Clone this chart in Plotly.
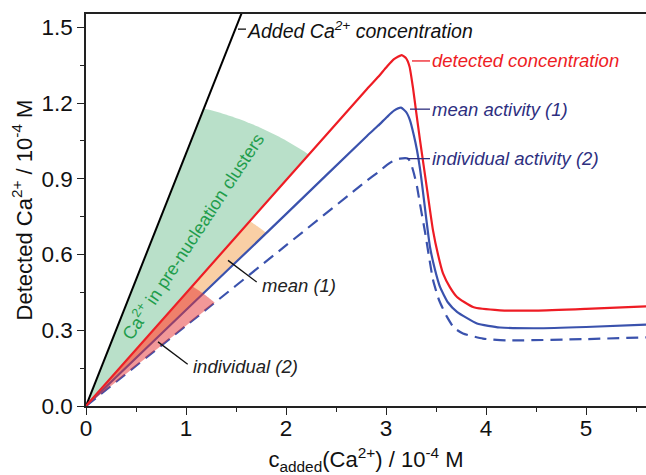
import math
import plotly.graph_objects as go

# ---------------- data ----------------
added_x = [0.0, 1.6]
added_y = [0.0, 1.6]

det_x = [0.0, 1.0, 2.0, 2.81, 2.92, 3.01, 3.08, 3.157, 3.20, 3.235, 3.27, 3.30, 3.34, 3.41, 3.47,
         3.52, 3.57, 3.64, 3.71, 3.87, 4.14, 4.5, 5.0, 5.6]
det_y = [0.0, 0.447, 0.894, 1.256, 1.303, 1.345, 1.374, 1.39, 1.378, 1.345, 1.26, 1.17, 1.053, 0.86, 0.696,
         0.60, 0.525, 0.47, 0.432, 0.392, 0.379, 0.378, 0.385, 0.395]

mean_x = [0.0, 1.0, 2.0, 2.81, 2.92, 3.01, 3.08, 3.15, 3.20, 3.24, 3.28, 3.31, 3.34, 3.36, 3.40, 3.44,
          3.49, 3.54, 3.62, 3.71, 3.91, 4.14, 4.5, 5.0, 5.6]
mean_y = [0.0, 0.38, 0.76, 1.07, 1.11, 1.145, 1.170, 1.182, 1.165, 1.132, 1.07, 1.013, 0.94, 0.88, 0.75, 0.63,
          0.54, 0.472, 0.41, 0.373, 0.327, 0.311, 0.308, 0.313, 0.322]

ind_x = [0.0, 1.0, 2.0, 2.81, 2.92, 3.01, 3.08, 3.14, 3.22, 3.25, 3.28, 3.31, 3.34, 3.39, 3.47, 3.53,
         3.61, 3.68, 3.77, 3.97, 4.2, 5.0, 5.6]
ind_y = [0.0, 0.318, 0.636, 0.893, 0.926, 0.955, 0.973, 0.98, 0.98, 0.96, 0.92, 0.87, 0.80, 0.69, 0.50, 0.42,
         0.353, 0.31, 0.287, 0.267, 0.26, 0.265, 0.272]

x_ticks = [0, 1, 2, 3, 4, 5]
y_ticks = [0.0, 0.3, 0.6, 0.9, 1.2, 1.5]

# ---------------- layout geometry ----------------
W, H = 646, 475
ML, MR, MT, MB = 86, 0, 14, 69
XR = [0, 5.6]
YR = [0, 1.553]
PX = (W - ML - MR) / (XR[1] - XR[0])   # pixels per x unit
PY = (H - MT - MB) / (YR[1] - YR[0])   # pixels per y unit

RED = "#ee1c24"
BLUE = "#3a52ad"
NAVY = "#2e2f7f"
GREEN_T = "#1f9d4c"

s_add = added_y[1] / added_x[1]
s_det = det_y[1] / det_x[1]
s_mean = mean_y[1] / mean_x[1]
s_ind = ind_y[1] / ind_x[1]


def wedge(s_hi, s_lo, r_hi, r_lo, n=40):
    th_hi = math.atan2(s_hi * PY, PX)
    th_lo = math.atan2(s_lo * PY, PX)
    xs, ys = [0.0], [0.0]
    for i in range(n + 1):
        t = i / n
        th = th_hi + (th_lo - th_hi) * t
        r = r_hi + (r_lo - r_hi) * t
        xs.append(r * math.cos(th) / PX)
        ys.append(r * math.sin(th) / PY)
    xs.append(0.0)
    ys.append(0.0)
    return xs, ys


fig = go.Figure()

gx, gy = wedge(s_add, s_det, 320, 336)
fig.add_trace(go.Scatter(x=gx, y=gy, fill="toself", fillcolor="#b9e0c9", mode="none",
                         hoverinfo="skip", showlegend=False))
ox, oy = wedge(s_det, s_mean, 247, 250)
fig.add_trace(go.Scatter(x=ox, y=oy, fill="toself", fillcolor="#f9cfa5", mode="none",
                         hoverinfo="skip", showlegend=False))

fig.add_trace(go.Scatter(x=added_x, y=added_y, mode="lines", line=dict(color="black", width=2),
                         showlegend=False))
fig.add_trace(go.Scatter(x=ind_x, y=ind_y, mode="lines",
                         line=dict(color=BLUE, width=2.2, dash="12px,7px", shape="spline", smoothing=0.5),
                         showlegend=False))
fig.add_trace(go.Scatter(x=mean_x, y=mean_y, mode="lines",
                         line=dict(color=BLUE, width=2.2, shape="spline", smoothing=0.5),
                         showlegend=False))
fig.add_trace(go.Scatter(x=det_x, y=det_y, mode="lines",
                         line=dict(color=RED, width=2.2, shape="spline", smoothing=0.5),
                         showlegend=False))

px_, py_ = wedge(s_det, s_ind, 160, 165)
fig.add_trace(go.Scatter(x=px_, y=py_, fill="toself", fillcolor="rgba(230,50,50,0.5)", mode="none",
                         hoverinfo="skip", showlegend=False))

# ---------------- labels ----------------
FONT = "Liberation Sans, Arial, sans-serif"
labels = [
    # text, x, y, color, size, leader x0, y0, x1, y1
    ("<i>Added Ca<sup>2+</sup> concentration</i>", 1.62, 1.49, "#111111", 19.5, 1.52, 1.493, 1.60, 1.493),
    ("<i>detected concentration</i>", 3.465, 1.367, RED, 18.5, 3.26, 1.367, 3.44, 1.367),
    ("<i>mean activity (1)</i>", 3.465, 1.176, NAVY, 18.5, 3.24, 1.176, 3.44, 1.176),
    ("<i>individual activity (2)</i>", 3.465, 0.98, NAVY, 18.5, 3.21, 0.98, 3.44, 0.98),
    ("<i>mean (1)</i>", 1.77, 0.478, "#222222", 18.5, 1.42, 0.577, 1.707, 0.491),
    ("<i>individual (2)</i>", 1.08, 0.155, "#222222", 18.5, 0.72, 0.254, 1.017, 0.165),
]
for text, x, y, col, fs, lx0, ly0, lx1, ly1 in labels:
    fig.add_annotation(x=x, y=y, text=text, showarrow=False, xanchor="left", yanchor="middle",
                       xshift=-3, font=dict(family=FONT, size=fs, color=col))
    fig.add_shape(type="line", x0=lx0, y0=ly0, x1=lx1, y1=ly1,
                  line=dict(color=col if col != "#222222" else "#111111", width=1.3))

fig.add_annotation(x=1.06, y=0.673, text="Ca<sup>2+</sup> in pre-nucleation clusters", showarrow=False,
                   textangle=-56.7, font=dict(family=FONT, size=18, color=GREEN_T))

axis_common = dict(showline=True, linecolor="#222222", linewidth=1.6, ticks="outside", ticklen=7,
                   tickwidth=1.4, tickcolor="#222222", showgrid=False, zeroline=False,
                   tickfont=dict(family=FONT, size=22.5, color="#111111"))

fig.update_xaxes(range=XR, tickvals=x_ticks, mirror=True, ticklabelstandoff=-6,
                 minor=dict(dtick=0.5, ticklen=4, ticks="outside", tickcolor="#222222", tickwidth=1.2),
                 title=dict(text="c<sub>added</sub>(Ca<sup>2+</sup>) / 10<sup>-4</sup> M",
                            font=dict(family=FONT, size=22, color="#111111"), standoff=13),
                 **axis_common)
fig.update_yaxes(range=YR, tickvals=y_ticks, tickformat=".1f",
                 minor=dict(dtick=0.15, ticklen=4, ticks="outside", tickcolor="#222222", tickwidth=1.2),
                 title=dict(text="Detected Ca<sup>2+</sup> / 10<sup>-4</sup> M",
                            font=dict(family=FONT, size=22, color="#111111"), standoff=3),
                 **axis_common)

fig.update_layout(width=W, height=H, margin=dict(l=ML, r=MR, t=MT, b=MB, autoexpand=False),
                  plot_bgcolor="white", paper_bgcolor="white")

fig.write_html("out.html")
